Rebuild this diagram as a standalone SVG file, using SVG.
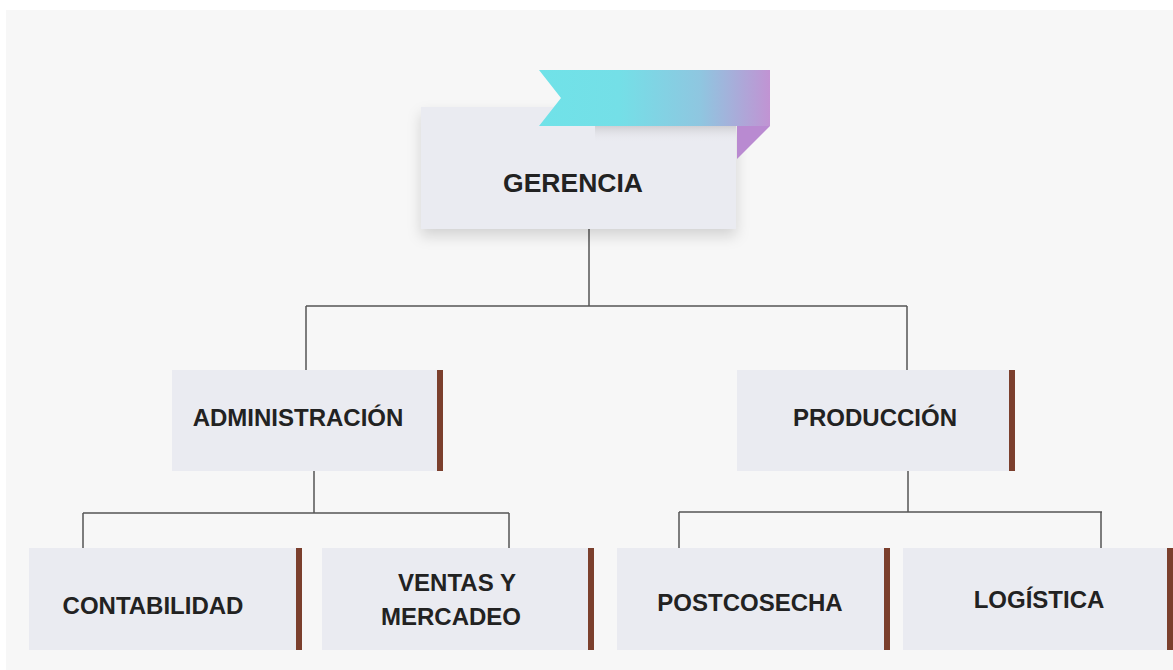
<svg xmlns="http://www.w3.org/2000/svg" width="1173" height="670" viewBox="0 0 1173 670">
<defs>
<linearGradient id="rib" x1="0" y1="0" x2="1" y2="0">
<stop offset="0" stop-color="#70e2e8"/>
<stop offset="0.35" stop-color="#74dfe7"/>
<stop offset="0.7" stop-color="#8fc6e0"/>
<stop offset="1" stop-color="#c193d3"/>
</linearGradient>
<linearGradient id="ribsh" x1="0" y1="0" x2="0" y2="1">
<stop offset="0" stop-color="#c8c8cc" stop-opacity="0.8"/>
<stop offset="1" stop-color="#ebebf1" stop-opacity="0"/>
</linearGradient>
<filter id="sh" x="-10%" y="-10%" width="120%" height="140%">
<feDropShadow dx="0" dy="7" stdDeviation="7" flood-color="#000" flood-opacity="0.15"/>
</filter>
<style>
.box{fill:#eaebf1}
.bar{fill:#7b3f2d}
.t{font-family:"Liberation Sans",Arial,sans-serif;font-weight:bold;fill:#222;text-anchor:middle}
.c{fill:none;stroke:#555;stroke-width:1.5}
</style>
</defs>
<rect x="0" y="0" width="1173" height="670" fill="#ffffff"/>
<rect x="6" y="10" width="1167" height="660" fill="#f7f7f7"/>

<g id="connectors">
<path class="c" d="M589 229 V306 M306 306 H907 M306 306 V370 M907 306 V370"/>
<path class="c" d="M314 471 V513 M83 513 H509 M83 513 V548 M509 513 V548"/>
<path class="c" d="M908 471 V512 M679 512 H1102 M679 512 V548 M1101 512 V548"/>
</g>

<g id="gerencia">
<rect class="box" x="421" y="107" width="315" height="122" filter="url(#sh)"/>
<rect x="595" y="126" width="141" height="16" fill="url(#ribsh)"/>
<polygon points="737,126 770,126 737,159" fill="#b98ad1"/>
<polygon points="539,70 770,70 770,126 539,126 561,98" fill="url(#rib)"/>
<text class="t" x="573" y="192" font-size="26.5">GERENCIA</text>
</g>

<g id="administracion">
<rect class="box" x="172" y="370" width="265" height="101"/>
<rect class="bar" x="437" y="370" width="6" height="101"/>
<text class="t" x="298" y="426" font-size="24">ADMINISTRACIÓN</text>
</g>

<g id="produccion">
<rect class="box" x="737" y="370" width="272" height="101"/>
<rect class="bar" x="1009" y="370" width="6" height="101"/>
<text class="t" x="875" y="426" font-size="24">PRODUCCIÓN</text>
</g>

<g id="contabilidad">
<rect class="box" x="29" y="548" width="267" height="102"/>
<rect class="bar" x="296" y="548" width="6" height="102"/>
<text class="t" x="153" y="614" font-size="24">CONTABILIDAD</text>
</g>

<g id="ventas">
<rect class="box" x="322" y="548" width="266" height="102"/>
<rect class="bar" x="588" y="548" width="6" height="102"/>
<text class="t" x="457" y="591" font-size="24">VENTAS Y</text>
<text class="t" x="451" y="625" font-size="24">MERCADEO</text>
</g>

<g id="postcosecha">
<rect class="box" x="617" y="548" width="267" height="102"/>
<rect class="bar" x="884" y="548" width="6" height="102"/>
<text class="t" x="750" y="611" font-size="24">POSTCOSECHA</text>
</g>

<g id="logistica">
<rect class="box" x="903" y="548" width="264" height="102"/>
<rect class="bar" x="1167" y="548" width="6" height="102"/>
<text class="t" x="1039" y="608" font-size="24">LOGÍSTICA</text>
</g>
</svg>
